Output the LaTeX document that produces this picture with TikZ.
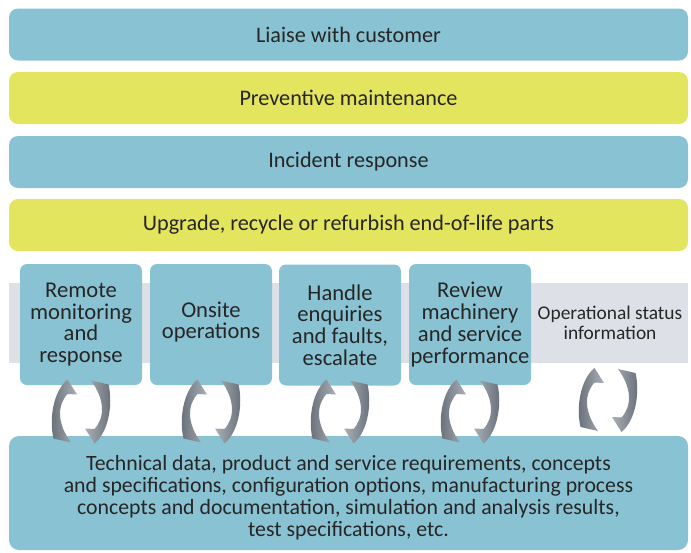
\documentclass[tikz,border=0pt]{standalone}
\usepackage{fontspec}
\setmainfont{Carlito}
\definecolor{barblue}{HTML}{89C3D3}
\definecolor{baryellow}{HTML}{E4E55E}
\definecolor{bandgrey}{HTML}{DDE1E7}
\definecolor{txt}{HTML}{262626}
\definecolor{icondark}{HTML}{656C75}
\definecolor{iconlight}{HTML}{A9AFB7}
\begin{document}
\begin{tikzpicture}[x=1pt,y=-1pt,
  bar/.style={rounded corners=9pt, minimum width=679pt, minimum height=52pt, inner sep=0pt, text=txt, font=\fontsize{22.2}{24}\selectfont},
  bluebar/.style={bar, fill=barblue},
  yellowbar/.style={bar, fill=baryellow},
  smallbox/.style={rounded corners=7pt, fill=barblue, minimum width=122pt, minimum height=121pt, inner sep=0pt, align=center, text=txt, font=\fontsize{22.6}{21.7}\selectfont},
  infotext/.style={align=center, text=txt, font=\fontsize{19.4}{19.5}\selectfont},
  bigbox/.style={rounded corners=10pt, fill=barblue, minimum width=679pt, minimum height=114pt, inner sep=0pt},
  bigtext/.style={align=center, text=txt, inner sep=0pt, font=\fontsize{21.8}{22}\selectfont},
  cycicon/.pic={
    \shade[left color=icondark, right color=iconlight] (-27.5,27) .. controls (-32,8) and (-28,-20) .. (-13.5,-32) -- (-4,-17) -- (-13.5,-17.5) .. controls (-24,-6) and (-24,12) .. (-10,31) -- cycle;
    \shade[left color=iconlight, right color=icondark] (27.5,-27) .. controls (32,-8) and (28,20) .. (13.5,32) -- (4,17) -- (13.5,17.5) .. controls (24,6) and (24,-12) .. (10,-31) -- cycle;
  }]
\useasboundingbox (0,0) rectangle (691,552);
% horizontal bars
\node[bluebar]   (liaise)   at (348.5,34.5) {Liaise with customer};
\node[yellowbar] (prevent)  at (348.5,98)   {Preventive maintenance};
\node[bluebar]   (incident) at (348.5,162)  {Incident response};
\node[yellowbar] (upgrade)  at (348.5,225)  {Upgrade, recycle or refurbish end-of-life parts};
% grey band
\fill[bandgrey] (9,283) rectangle (688,363);
% small boxes
\node[smallbox] (remote) at (81,324.5)  {Remote\\monitoring\\and\\response};
\node[smallbox] (onsite) at (211,324.5) {Onsite\\operations\\[-13pt]};
\node[smallbox] (handle) at (340,325)   {Handle\\enquiries\\and faults,\\escalate};
\node[smallbox] (review) at (470,324.5) {Review\\machinery\\and service\\performance};
\node[infotext] (status) at (610,323)   {Operational status\\information};
% bottom box
\node[bigbox] (data) at (348.5,493) {};
\node[bigtext] (datatext) at (348.5,497.5) {Technical data, product and service requirements, concepts\\
and specifications, configuration options, manufacturing process\\
concepts and documentation, simulation and analysis results,\\
test specifications, etc.};
% cycle icons
\pic at (81,411.5)  {cycicon};
\pic at (211,411.5) {cycicon};
\pic at (340,411.5) {cycicon};
\pic at (470,411.5) {cycicon};
\pic at (608,400)   {cycicon};
\end{tikzpicture}
\end{document}
